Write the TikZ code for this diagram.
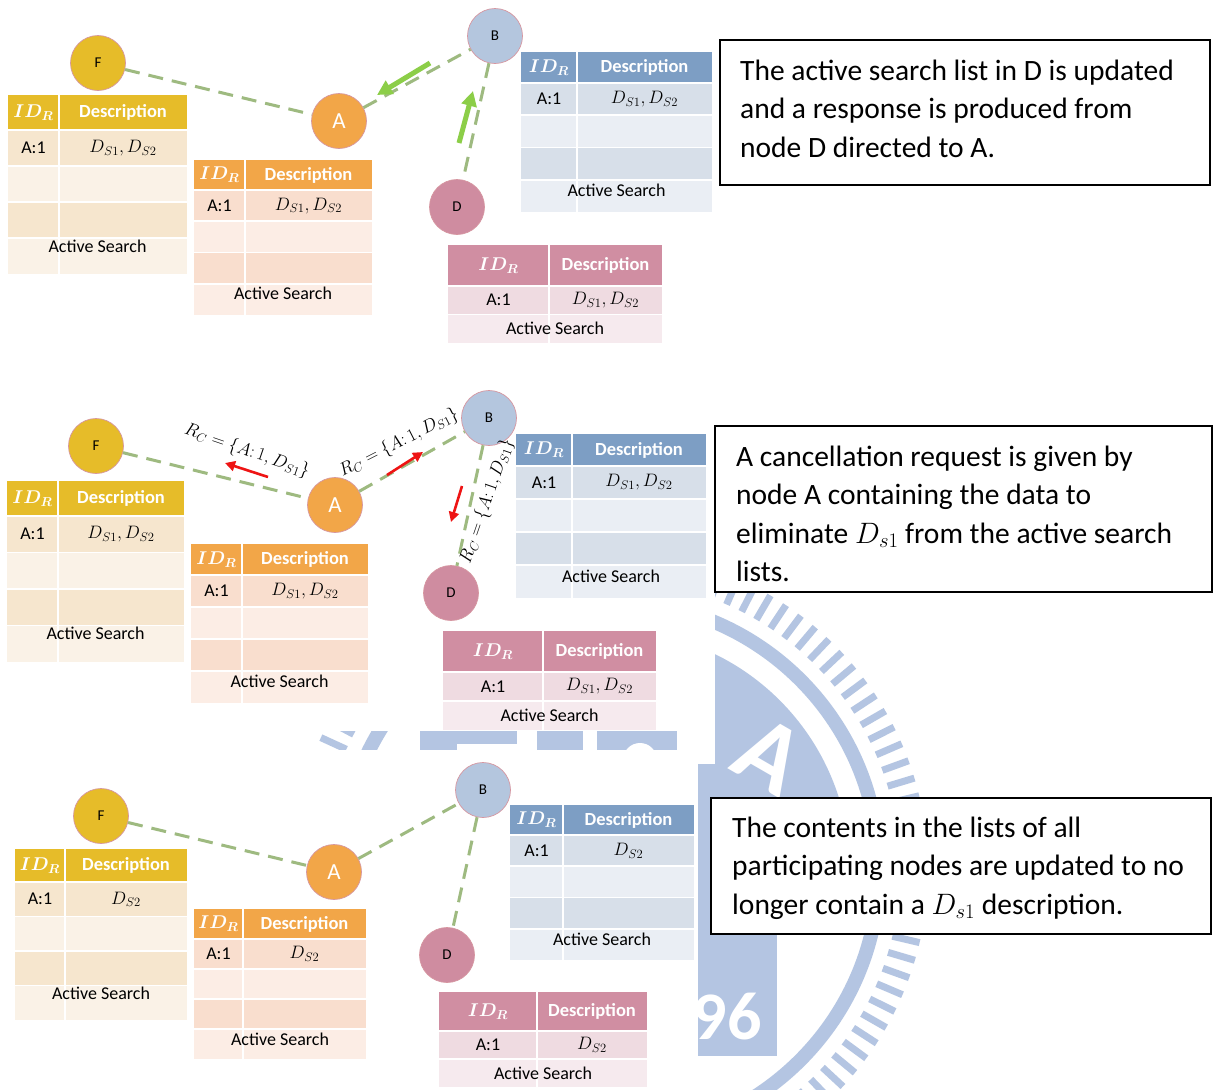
\documentclass[tikz,border=0pt]{standalone}
\usepackage{fix-cm}
\usepackage{amsmath}
\usepackage{bm}
\usepackage{fontspec}
\setmainfont{Carlito}
\usetikzlibrary{arrows.meta}

% palettes for the four peers: header / dark row / light row
\definecolor{goldH}{RGB}{230,188,41}
\definecolor{goldD}{RGB}{246,230,206}
\definecolor{goldL}{RGB}{250,242,231}
\definecolor{orngH}{RGB}{242,166,72}
\definecolor{orngD}{RGB}{249,222,206}
\definecolor{orngL}{RGB}{252,237,229}
\definecolor{blueH}{RGB}{125,158,196}
\definecolor{blueD}{RGB}{215,223,233}
\definecolor{blueL}{RGB}{234,238,244}
\definecolor{mauvH}{RGB}{208,142,162}
\definecolor{mauvD}{RGB}{239,219,225}
\definecolor{mauvL}{RGB}{246,234,238}
\definecolor{nodeF}{RGB}{230,188,41}
\definecolor{nodeA}{RGB}{242,166,72}
\definecolor{nodeB}{RGB}{180,198,222}
\definecolor{nodeD}{RGB}{207,140,160}
\definecolor{rim}{RGB}{214,150,160}
\definecolor{linkgreen}{RGB}{158,186,128}
\definecolor{replygreen}{RGB}{140,206,72}
\definecolor{cancelred}{RGB}{238,20,20}
\definecolor{wm}{RGB}{180,197,226}

\newcommand\notefont{\fontsize{29.5}{38.5}\selectfont}

% active-search list with four body rows
% #1 left, #2 column split, #3 right, #4 top, #5 header height,
% #6 row height, #7 palette, #8 description, #9 caption offset
\newcommand\listfour[9]{%
  \pgfmathsetmacro\ya{#4+#5}%
  \pgfmathsetmacro\yb{\ya+#6}%
  \pgfmathsetmacro\yc{\yb+#6}%
  \pgfmathsetmacro\yd{\yc+#6}%
  \pgfmathsetmacro\ye{\yd+#6}%
  \fill[#7H] (#1,#4) rectangle (#3,\ya);
  \fill[#7D] (#1,\ya) rectangle (#3,\yb);
  \fill[#7L] (#1,\yb) rectangle (#3,\yc);
  \fill[#7D] (#1,\yc) rectangle (#3,\yd);
  \fill[#7L] (#1,\yd) rectangle (#3,\ye);
  \draw[gridline] (#1,\ya) -- (#3,\ya) (#1,\yb) -- (#3,\yb)
     (#1,\yc) -- (#3,\yc) (#1,\yd) -- (#3,\yd) (#2,#4) -- (#2,\ye);
  \node[headtext] at ({(#1+#2)/2},{(#4+\ya)/2}) {$\bm{ID_R}$};
  \node[headtext] at ({(#2+#3)/2},{(#4+\ya)/2}) {Description};
  \node[celltext] at ({(#1+#2)/2},{(\ya+\yb)/2}) {A:1};
  \node[celltext] at ({(#2+#3)/2},{(\ya+\yb)/2}) {#8};
  \node[celltext] at ({(#1+#3)/2},{\yd+#9}) {Active Search};
}
% active-search list with two body rows
\newcommand\listtwo[8]{%
  \pgfmathsetmacro\ya{#4+#5}%
  \pgfmathsetmacro\yb{\ya+#6}%
  \pgfmathsetmacro\yc{\yb+#6}%
  \fill[#7H] (#1,#4) rectangle (#3,\ya);
  \fill[#7D] (#1,\ya) rectangle (#3,\yb);
  \fill[#7L] (#1,\yb) rectangle (#3,\yc);
  \draw[gridline] (#1,\ya) -- (#3,\ya) (#1,\yb) -- (#3,\yb) (#2,#4) -- (#2,\yc);
  \node[headtext] at ({(#1+#2)/2},{(#4+\ya)/2}) {$\bm{ID_R}$};
  \node[headtext] at ({(#2+#3)/2},{(#4+\ya)/2}) {Description};
  \node[celltext] at ({(#1+#2)/2},{(\ya+\yb)/2}) {A:1};
  \node[celltext] at ({(#2+#3)/2},{(\ya+\yb)/2}) {#8};
  \node[celltext] at ({(#1+#3)/2},{(\yb+\yc)/2}) {Active Search};
}

\tikzset{
  peer/.style={circle, draw=rim, line width=0.7pt, minimum size=55pt,
    inner sep=0pt, font=\fontsize{15}{15}\selectfont},
  peerA/.style={peer, fill=nodeA, text=white, font=\fontsize{23}{23}\selectfont},
  link/.style={draw=linkgreen, line width=3pt, dash pattern=on 15pt off 9pt},
  reply/.style={draw=replygreen, line width=5pt, -{Triangle[length=15pt,width=15pt]}},
  cancel/.style={draw=cancelred, line width=2.6pt, -{Triangle[length=10pt,width=10pt]}},
  gridline/.style={draw=white, line width=1.8pt},
  headtext/.style={text=white, font=\bfseries\fontsize{18.5}{18.5}\selectfont, inner sep=0pt},
  celltext/.style={text=black, font=\fontsize{18}{18}\selectfont, inner sep=0pt},
  notebox/.style={draw=black, line width=1.6pt, fill=white},
  notetext/.style={anchor=base west, inner sep=0pt, font=\notefont},
  rclabel/.style={inner sep=0pt, font=\fontsize{18}{18}\selectfont},
}

\begin{document}
\begin{tikzpicture}[x=1pt,y=-1pt]
\useasboundingbox (0,0) rectangle (1216,1090);
\fill[white] (0,0) rectangle (1216,1090);

% ---- university seal printed faintly behind the page ----
\begin{scope}
  \begin{scope}
    \clip (0,0) rectangle (1216,934);
    \fill[wm] (610,870) circle (240);
  \end{scope}
  \fill[wm] (690,934) rectangle (777,1056);
  \draw[wm, line width=14pt] (610,870) circle (269);
  \foreach \a in {0,3.3,...,357}
    \draw[wm, line width=7pt] ({610+290*cos(\a)},{870+290*sin(\a)})
      -- ({610+318*cos(\a)},{870+318*sin(\a)});
  % lettering band across the seal
  \fill[white] (395,722) rectangle (715,764);
  \fill[wm] (420,728) rectangle (517,744);
  \fill[wm] (420,728) rectangle (457,764);
  \fill[wm] (537,728) rectangle (583,764);
  \fill[wm] (597,728) rectangle (677,764);
  \fill[white] (640,760) circle (17);
  \node[text=white, font=\bfseries\fontsize{100}{100}\selectfont, rotate=-30]
    (sealA) at (770,756) {A};
  \node[text=white, font=\bfseries\fontsize{68}{68}\selectfont] (seal96) at (727,1017) {96};
\end{scope}

% ---- page areas of the second and third stage ----
\fill[white] (0,378) rectangle (715,731);
\fill[white] (0,750) rectangle (698,1090);

% ================= stage 1: response from D =================
\listfour{8}{59}{187}{95}{35}{36}{gold}{$D_{S1},D_{S2}$}{8}
\listfour{194}{245}{372}{160}{30}{31.25}{orng}{$D_{S1},D_{S2}$}{10}
\listfour{521}{577}{712}{52}{31}{32.25}{blue}{$D_{S1},D_{S2}$}{11}
\listtwo{448}{549}{662}{245}{41}{28.5}{mauv}{$D_{S1},D_{S2}$}

\node[peer, fill=nodeF] (f1) at (98,63) {F};
\node[peerA] (a1) at (339,121) {A};
\node[peer, fill=nodeB] (b1) at (495,36) {B};
\node[peer, fill=nodeD] (d1) at (457,207) {D};
\draw[link] (f1) -- (a1);
\draw[link] (a1) -- (b1);
\draw[link] (b1) -- (d1);

\coordinate (r1s) at (430,63);
\coordinate (r1e) at (377,95);
\coordinate (r2s) at (459,143);
\coordinate (r2e) at (473,91);
\draw[reply] (r1s) -- (r1e);
\draw[reply] (r2s) -- (r2e);

\draw[notebox] (720,40) rectangle (1210,185);
\node[notetext] (n1a) at (740,80) {The active search list in D is updated};
\node[notetext] (n1b) at (740,118.5) {and a response is produced from};
\node[notetext] (n1c) at (740,157) {node D directed to A.};

% ================= stage 2: cancellation request =================
\listfour{7}{58}{184}{481}{35}{36.5}{gold}{$D_{S1},D_{S2}$}{8}
\listfour{191}{242}{368}{544}{31}{32}{orng}{$D_{S1},D_{S2}$}{10}
\listfour{516}{572}{706}{434}{32}{33}{blue}{$D_{S1},D_{S2}$}{11}
\listtwo{443}{543}{656}{631}{41}{29}{mauv}{$D_{S1},D_{S2}$}

\node[peer, fill=nodeF] (f2) at (96,446) {F};
\node[peerA] (a2) at (335,505) {A};
\node[peer, fill=nodeB] (b2) at (489,418) {B};
\node[peer, fill=nodeD] (d2) at (451,593) {D};
\draw[link] (f2) -- (a2);
\draw[link] (a2) -- (b2);
\draw[link] (b2) -- (d2);

\coordinate (c1s) at (268,477);
\coordinate (c1e) at (225,463);
\coordinate (c2s) at (387,475);
\coordinate (c2e) at (423,452);
\coordinate (c3s) at (462,486);
\coordinate (c3e) at (451,522);
\draw[cancel] (c1s) -- (c1e);
\draw[cancel] (c2s) -- (c2e);
\draw[cancel] (c3s) -- (c3e);

\node[rclabel, rotate=-19] (l1) at (247,451) {$R_C=\{A{:}\,1, D_{S1}\}$};
\node[rclabel, rotate=27] (l2) at (399,443) {$R_C=\{A{:}\,1, D_{S1}\}$};
\node[rclabel, rotate=71] (l3) at (487,501) {$R_C=\{A{:}\,1, D_{S1}\}$};

\draw[notebox] (715,426) rectangle (1212,592);
\node[notetext] (n2a) at (736,466) {A cancellation request is given by};
\node[notetext] (n2b) at (736,504.5) {node A containing the data to};
\node[notetext] (n2c) at (736,543) {eliminate $D_{s1}$ from the active search};
\node[notetext] (n2d) at (736,581.5) {lists.};

% ================= stage 3: lists updated =================
\listfour{15}{65}{187}{849}{33}{34.5}{gold}{$D_{S2}$}{8}
\listfour{194}{243}{366}{909}{30}{30}{orng}{$D_{S2}$}{10}
\listfour{510}{563}{694}{805}{30}{31.25}{blue}{$D_{S2}$}{11}
\listtwo{439}{537}{647}{992}{39}{28}{mauv}{$D_{S2}$}

\node[peer, fill=nodeF] (f3) at (101,816) {F};
\node[peerA] (a3) at (334,872) {A};
\node[peer, fill=nodeB] (b3) at (483,790) {B};
\node[peer, fill=nodeD] (d3) at (447,955) {D};
\draw[link] (f3) -- (a3);
\draw[link] (a3) -- (b3);
\draw[link] (b3) -- (d3);

\draw[notebox] (711,798) rectangle (1211,934);
\node[notetext] (n3a) at (732,837) {The contents in the lists of all};
\node[notetext] (n3b) at (732,875.5) {participating nodes are updated to no};
\node[notetext] (n3c) at (732,914) {longer contain a $D_{s1}$ description.};
\end{tikzpicture}
\end{document}
